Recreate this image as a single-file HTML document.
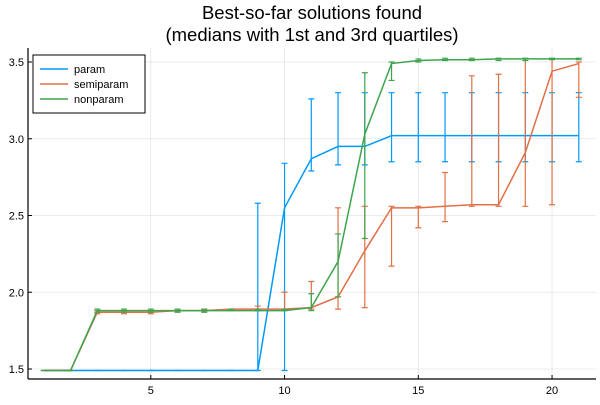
<!DOCTYPE html>
<html><head><meta charset="utf-8"><style>
body{margin:0;background:#fff;font-family:"Liberation Sans","DejaVu Sans",sans-serif}
svg text{font-family:"Liberation Sans","DejaVu Sans",sans-serif}
</style></head><body>
<svg id="chart" width="600" height="400" viewBox="0 0 600 400" xmlns="http://www.w3.org/2000/svg">
<text x="312" y="19" text-anchor="middle" font-size="18.5" fill="#000">Best-so-far solutions found</text>
<text x="312" y="41" text-anchor="middle" font-size="18.5" fill="#000">(medians with 1st and 3rd quartiles)</text>
<g id="grid"></g>
<g id="series"></g>
<g id="axes"></g>
<g>
<rect x="33" y="55" width="112" height="58" fill="#fff" stroke="#000" stroke-width="1"/>
<line x1="40" y1="69" x2="68" y2="69" stroke="#009af9" stroke-width="1.5"/>
<text x="74" y="73" font-size="11">param</text>
<line x1="40" y1="84" x2="68" y2="84" stroke="#e26f46" stroke-width="1.5"/>
<text x="74" y="88" font-size="11">semiparam</text>
<line x1="40" y1="99" x2="68" y2="99" stroke="#3da44d" stroke-width="1.5"/>
<text x="74" y="103" font-size="11">nonparam</text>
</g>
</svg>
<script>
const xs=[1,2,3,4,5,6,7,8,9,10,11,12,13,14,15,16,17,18,19,20,21];
const paramMed=[1.49,1.49,1.49,1.49,1.49,1.49,1.49,1.49,1.49,2.55,2.87,2.95,2.95,3.02,3.02,3.02,3.02,3.02,3.02,3.02,3.02];
const paramQ1=[1.49,1.49,1.49,1.49,1.49,1.49,1.49,1.49,1.49,1.49,2.79,2.83,2.83,2.85,2.85,2.85,2.85,2.85,2.85,2.85,2.85];
const paramQ3=[1.49,1.49,1.49,1.49,1.49,1.49,1.49,1.49,2.58,2.84,3.26,3.30,3.30,3.30,3.30,3.30,3.30,3.30,3.30,3.30,3.30];
const semiMed=[1.49,1.49,1.87,1.87,1.87,1.88,1.88,1.89,1.89,1.89,1.90,1.97,2.27,2.55,2.55,2.56,2.57,2.57,2.91,3.44,3.49];
const semiQ1=[1.49,1.49,1.86,1.86,1.86,1.87,1.87,1.89,1.88,1.88,1.89,1.89,1.90,2.17,2.42,2.46,2.56,2.56,2.56,2.57,3.27];
const semiQ3=[1.49,1.49,1.88,1.88,1.88,1.88,1.89,1.89,1.91,2.00,2.07,2.55,2.56,2.56,2.56,2.78,3.41,3.42,3.52,3.52,3.50];
const nonMed=[1.49,1.49,1.88,1.88,1.88,1.88,1.88,1.88,1.88,1.88,1.90,2.20,3.03,3.49,3.51,3.515,3.515,3.52,3.52,3.52,3.52];
const nonQ1=[1.49,1.49,1.87,1.87,1.87,1.87,1.87,1.88,1.88,1.88,1.88,1.97,2.35,3.38,3.50,3.51,3.51,3.51,3.51,3.515,3.515];
const nonQ3=[1.49,1.49,1.89,1.89,1.89,1.89,1.89,1.89,1.89,1.89,1.99,2.38,3.43,3.50,3.52,3.525,3.525,3.525,3.525,3.525,3.525];
const xTicks=[5,10,15,20];
const yTicks=[1.5,2.0,2.5,3.0,3.5];
const yTickLabels=["1.5","2.0","2.5","3.0","3.5"];

const L=28,R=596,T=48,B=379;
const X=v=>43.8+(v-1)*26.75;
const Y=v=>369-(v-1.5)*153.5;
const NS="http://www.w3.org/2000/svg";
function mk(parent,tag,attrs){const e=document.createElementNS(NS,tag);for(const k in attrs)e.setAttribute(k,attrs[k]);parent.appendChild(e);return e;}
const grid=document.getElementById('grid'),axes=document.getElementById('axes'),ser=document.getElementById('series');
mk(grid,'rect',{x:L,y:T,width:R-L,height:B-T,fill:'#fff'});
xTicks.forEach(t=>{const l=mk(grid,'line',{x1:X(t),x2:X(t),y1:T,y2:B,stroke:'#000','stroke-opacity':0.1,'stroke-width':0.8});

const tx=mk(axes,'text',{x:X(t),y:B+15,'text-anchor':'middle','font-size':11});tx.textContent=t;

mk(axes,'line',{x1:X(t),x2:X(t),y1:B,y2:B-4,stroke:'#000'});});
yTicks.forEach((t,i)=>{const l=mk(grid,'line',{x1:L,x2:R,y1:Y(t),y2:Y(t),stroke:'#000','stroke-opacity':0.1,'stroke-width':0.8});

const tx=mk(axes,'text',{x:L-4,y:Y(t)+4,'text-anchor':'end','font-size':11});tx.textContent=yTickLabels[i];

mk(axes,'line',{x1:L,x2:L+4,y1:Y(t),y2:Y(t),stroke:'#000'});});
mk(axes,'line',{x1:L,x2:R,y1:B,y2:B,stroke:'#000','stroke-width':1.2});
mk(axes,'line',{x1:L,x2:L,y1:T,y2:B,stroke:'#000','stroke-width':1.2});
function series(name,med,q1,q3,col){
  const g=mk(ser,'g',{});
  
  xs.forEach((x,i)=>{const cx=X(x);
    const e=mk(g,'path',{d:`M${cx},${Y(q1[i])}V${Y(q3[i])}M${cx-3},${Y(q1[i])}H${cx+3}M${cx-3},${Y(q3[i])}H${cx+3}`,stroke:col,'stroke-width':1.2,fill:'none'});
    });
  const p=mk(g,'polyline',{points:xs.map((x,i)=>X(x)+','+Y(med[i])).join(' '),stroke:col,'stroke-width':1.5,fill:'none'});
  
}
series('param',paramMed,paramQ1,paramQ3,'#009af9');
series('semiparam',semiMed,semiQ1,semiQ3,'#e26f46');
series('nonparam',nonMed,nonQ1,nonQ3,'#3da44d');
</script>
</body></html>
